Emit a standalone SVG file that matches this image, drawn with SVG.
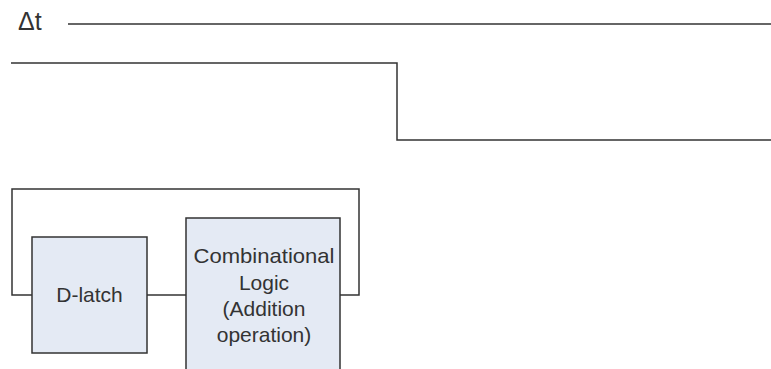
<svg xmlns="http://www.w3.org/2000/svg" width="771" height="369" viewBox="0 0 771 369">
<style>
.ln{fill:none;stroke:#333;stroke-width:1.5}
.box{fill:#e4eaf4;stroke:#333;stroke-width:1.5}
.t{font-family:"Liberation Sans",Arial,sans-serif;font-size:21px;fill:#333;text-anchor:middle}
</style>
<rect width="771" height="369" fill="#fff"/>
<text x="18" y="30" font-family="Liberation Sans,Arial,sans-serif" font-size="25" fill="#333">Δt</text>
<g id="connectors">
<line class="ln" x1="68" y1="24" x2="771" y2="24"/>
<polyline class="ln" points="11,63 397,63 397,140 771,140"/>
<polyline class="ln" points="32,295 12,295 12,189 359,189 359,295 340,295"/>
<line class="ln" x1="147" y1="295" x2="186" y2="295"/>
</g>
<g id="dlatch">
<rect class="box" x="32" y="237" width="115" height="116"/>
<text class="t" x="89.5" y="302">D-latch</text>
</g>
<g id="comblogic">
<rect class="box" x="186" y="218" width="154" height="160"/>
<text class="t" x="264" y="263" textLength="141" lengthAdjust="spacingAndGlyphs">Combinational</text>
<text class="t" x="264" y="290">Logic</text>
<text class="t" x="264" y="316">(Addition</text>
<text class="t" x="264" y="342">operation)</text>
</g>
</svg>
